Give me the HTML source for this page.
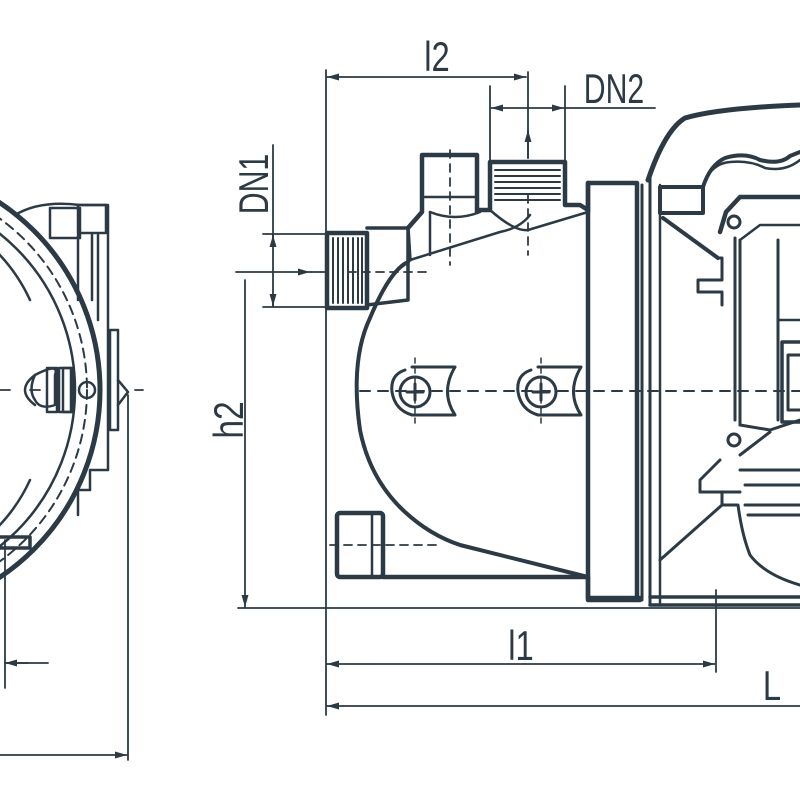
<!DOCTYPE html>
<html><head><meta charset="utf-8"><style>
html,body{margin:0;padding:0;background:#fff;}
svg{display:block;}
text{font-family:"Liberation Sans Narrow","Liberation Sans",sans-serif;fill:#2b3a44;}
</style></head><body>
<svg width="800" height="800" viewBox="0 0 800 800" xmlns="http://www.w3.org/2000/svg">
<defs>
<marker id="ar" viewBox="0 0 12 7" refX="12" refY="3.5" markerWidth="12" markerHeight="7" orient="auto-start-reverse" markerUnits="userSpaceOnUse"><path d="M0,0 L12,3.5 L0,7z" fill="#2b3a44"/></marker>
</defs>
<g stroke="#2b3a44" fill="none" stroke-linecap="round" stroke-linejoin="round">

<!-- LEFT VIEW -->
<circle cx="-125" cy="390" r="225" stroke-width="5"/>
<circle cx="-125" cy="390" r="212" stroke-width="2" stroke-dasharray="9 6"/>
<circle cx="-125" cy="390" r="200" stroke-width="2.5"/>
<path d="M-5,250 A170,170 0 0 1 30,300" stroke-width="2.5"/>
<path d="M30,480 A170,170 0 0 1 -5,530" stroke-width="2.5"/>
<path d="M15,215 Q40,200 80,205 L108,205 L108,470 L90,470 L90,490 L78,490 L78,515" stroke-width="2.5"/>
<rect x="50" y="208" width="30" height="30" stroke-width="2.5"/>
<rect x="78" y="205" width="28" height="28" stroke-width="2.5"/>
<path d="M78,235 L78,300 M92,235 L92,300 M98,235 L98,320" stroke-width="2.5"/>
<rect x="110" y="330" width="8" height="100" stroke-width="2.5"/>
<path d="M118,380 L128,392 L118,405" stroke-width="2.5"/>
<path d="M35,375 Q60,362 55,375 L55,405 Q40,410 35,400 Q28,390 35,375z" stroke-width="2.5"/>
<path d="M35,375 Q15,390 35,405" stroke-width="2.5"/>
<rect x="47" y="368" width="10" height="44" stroke-width="2.5"/>
<rect x="59" y="368" width="12" height="44" stroke-width="2.5"/>
<rect x="63" y="368" width="10" height="44" stroke-width="2.5"/>
<circle cx="87" cy="390" r="8" stroke-width="2.5"/>
<path d="M-5,390 L10,390 M30,390 L40,390 M135,390 L143,390" stroke-width="1.8"/>
<path d="M0,537 L30,537 L30,548 L0,548" stroke-width="3.5"/>
<path d="M5,540 L5,688" stroke-width="1.8"/>
<path d="M5,663 L48,663" stroke-width="1.8"/>
<path d="M28,663 L5,663" stroke-width="1.8" marker-end="url(#ar)"/>
<path d="M128,395 L128,760" stroke-width="1.8"/>
<path d="M0,755 L127,755" stroke-width="1.8" marker-end="url(#ar)"/>

<!-- DIMENSIONS RIGHT -->
<path d="M326,70 L326,715" stroke-width="1.8"/>
<path d="M327,77 L526,77" stroke-width="1.8" marker-start="url(#ar)" marker-end="url(#ar)"/>
<path d="M528,72 L528,158" stroke-width="1.8"/>
<path d="M528,158 L528,130" stroke-width="1.8" marker-end="url(#ar)"/>
<path d="M490,86 L490,163 M565,86 L565,163" stroke-width="1.8"/>
<path d="M491,108 L564,108" stroke-width="1.8" marker-start="url(#ar)" marker-end="url(#ar)"/>
<path d="M565,108 L655,108" stroke-width="1.8"/>
<path d="M273,145 L273,306" stroke-width="1.8"/>
<path d="M273,245 L273,235" stroke-width="1.8" marker-end="url(#ar)"/>
<path d="M273,296 L273,306" stroke-width="1.8" marker-end="url(#ar)"/>
<path d="M263,234 L330,234 M263,307 L330,307" stroke-width="1.8"/>
<path d="M236,272 L310,272" stroke-width="1.8" marker-end="url(#ar)"/>
<path d="M310,272 L326,272" stroke-width="1.8"/>
<path d="M245,280 L245,607" stroke-width="1.8" marker-end="url(#ar)"/>
<path d="M238,608 L800,608" stroke-width="1.8"/>
<path d="M716,590 L716,672" stroke-width="1.8"/>
<path d="M327,664 L715,664" stroke-width="1.8" marker-start="url(#ar)" marker-end="url(#ar)"/>
<path d="M327,706 L800,706" stroke-width="1.8" marker-start="url(#ar)"/>
<path d="M360,391 L800,391" stroke-width="2" stroke-dasharray="10 8"/>

<!-- PUMP HEAD -->
<rect x="327" y="233" width="40" height="75" stroke-width="4.5"/>
<path d="M333,238 V303 M338,238 V303 M343,238 V303 M348,238 V303 M353,238 V303 M358,238 V303 M362,238 V303" stroke-width="2"/>
<path d="M367,228 L408,228 L410,260 M408,228 L408,300 L367,305" stroke-width="3.5"/>
<path d="M408,228 L422,212 L422,155 L477,155 L477,212 M477,210 L490,210 L490,162 L565,162 L565,205 L580,205 L588,210" stroke-width="4.5"/>
<path d="M425,197 L475,197 M430,212 L430,255" stroke-width="2.5"/>
<path d="M495,170 H560 M495,176 H560 M495,182 H560 M495,188 H560 M495,194 H560 M495,200 H560" stroke-width="2"/>
<path d="M408,262 Q390,270 370,318 Q350,360 360,430 Q370,480 405,512 Q430,535 460,545 L588,577" stroke-width="4"/>
<path d="M410,260 L500,232 Q520,228 530,215 M490,210 Q515,232 528,230 L588,212" stroke-width="2.5"/>
<path d="M480,212 Q455,222 430,212" stroke-width="2.5"/>
<path d="M348,272 H430" stroke-width="1.8" stroke-dasharray="8 6"/>
<path d="M450,150 V265 M528,195 V255" stroke-width="1.8" stroke-dasharray="8 6"/>
<rect x="337" y="513" width="46" height="64" rx="3" stroke-width="4.5"/>
<path d="M372,513 V577" stroke-width="2.5"/>
<path d="M330,545 L440,545" stroke-width="1.8" stroke-dasharray="8 6"/>
<path d="M383,577 L588,577 L588,598 L640,598" stroke-width="4.5"/>
<!-- screws -->
<g stroke-width="3">
<path d="M405,370 Q390,375 392,392 Q395,410 412,415 L455,415 Q440,392 455,367 L412,367"/>
<circle cx="415" cy="392" r="15"/>
<path d="M415,384 V400 M407,392 H423"/>
<path d="M531,370 Q516,375 518,392 Q521,410 538,415 L581,415 Q566,392 581,367 L538,367"/>
<circle cx="541" cy="392" r="15"/>
<path d="M541,384 V400 M533,392 H549"/>
</g>
<path d="M415,358 V428 M541,358 V428" stroke-width="1.5" stroke-dasharray="5 5"/>

<!-- FLANGE -->
<path d="M588,212 L588,183 L637,183 L637,598" stroke-width="4.5"/>
<path d="M588,183 L588,600 M588,600 L640,600" stroke-width="4.5"/>
<path d="M642,185 V600 M650,175 V605" stroke-width="3"/>
<path d="M660,185 V603" stroke-width="2.5"/>
<path d="M648,180 Q665,130 685,118 Q720,108 800,105" stroke-width="5"/>
<path d="M650,605 L800,605 M650,597 L800,597" stroke-width="3.5"/>
<!-- motor -->
<rect x="660" y="187" width="43" height="26" stroke-width="4"/>
<path d="M703,187 Q710,165 725,158 Q745,152 760,160 Q780,165 790,156 L800,152" stroke-width="4"/>
<path d="M706,178 Q715,163 730,162 Q750,160 765,168 Q785,172 800,160" stroke-width="2.5"/>
<path d="M663,218 L718,258" stroke-width="4"/>
<path d="M718,258 L722,258 L722,280 L698,280 L698,292 L722,292 L722,305" stroke-width="3"/>
<path d="M720,232 L726,212 L740,197 L800,197" stroke-width="4.5"/>
<circle cx="734" cy="222" r="6" stroke-width="3"/>
<circle cx="734" cy="440" r="6" stroke-width="3"/>
<path d="M735,238 V420 M740,240 V425 M778,240 V420" stroke-width="3"/>
<path d="M740,240 L760,225 L800,225" stroke-width="2.5"/>
<path d="M778,320 L800,320" stroke-width="2.5"/>
<rect x="782" y="342" width="22" height="80" stroke-width="3.5"/>
<rect x="788" y="355" width="18" height="55" stroke-width="3"/>
<path d="M740,425 L770,430 L800,420 M740,455 L770,432" stroke-width="3"/>
<path d="M720,460 L700,480 L700,492 L740,492 M740,470 L800,470 M745,485 L800,485 M745,505 L800,505 M748,515 L800,515" stroke-width="3"/>
<path d="M722,492 L722,505 M660,560 L722,505 L738,505 Q742,535 750,555 Q765,575 800,585" stroke-width="3"/>
</g>

<text x="0" y="0" font-size="42" text-anchor="middle" transform="translate(437 71) scale(0.78 1)">l2</text>
<text x="0" y="0" font-size="42" text-anchor="middle" transform="translate(614 103) scale(0.72 1)">DN2</text>
<text x="0" y="0" font-size="42" text-anchor="middle" transform="translate(268 184) rotate(-90) scale(0.72 1)">DN1</text>
<text x="0" y="0" font-size="42" text-anchor="middle" transform="translate(243 420) rotate(-90) scale(0.8 1)">h2</text>
<text x="0" y="0" font-size="42" text-anchor="middle" transform="translate(521 660) scale(0.78 1)">l1</text>
<text x="0" y="0" font-size="42" text-anchor="middle" transform="translate(772 700) scale(0.78 1)">L</text>
</svg>
</body></html>
